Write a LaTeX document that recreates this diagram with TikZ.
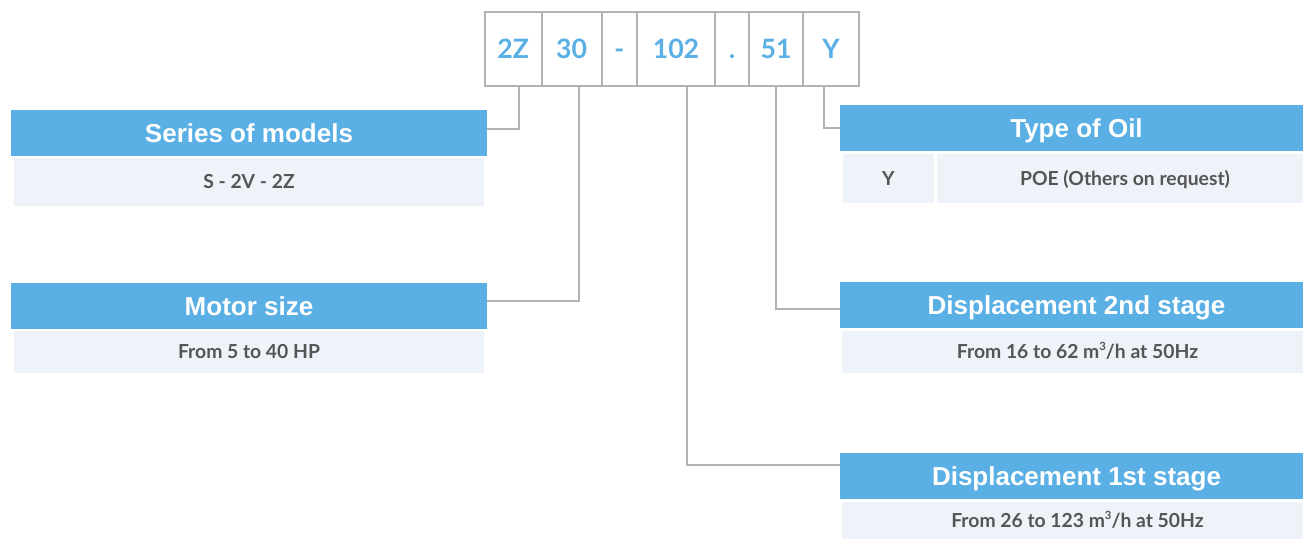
\documentclass[tikz,border=0pt]{standalone}
\usepackage{fontspec}
\setmainfont{Liberation Sans}
\newfontfamily\subfont{Lato}
\definecolor{hblue}{HTML}{5AAFE4}
\definecolor{bodybg}{HTML}{EEF3FA}
\definecolor{lgray}{HTML}{B3B3B3}
\definecolor{tgray}{HTML}{555555}
\newcommand\cubed{\raisebox{0.42em}{\fontsize{8.5pt}{8.5pt}\selectfont 3}}
\begin{document}
\begin{tikzpicture}[x=0.75pt,y=-0.75pt,
  head/.style={fill=hblue,text=white,inner sep=0,anchor=center,
    font=\bfseries\fontsize{19.5pt}{23pt}\selectfont,minimum height=46*0.75pt,
    text height=14pt,text depth=0pt},
  body/.style={fill=bodybg,text=tgray,inner sep=0,anchor=center,
    font=\subfont\bfseries\fontsize{14.5pt}{17pt}\selectfont,
    text height=10.4pt,text depth=0pt},
  codebox/.style={draw=lgray,line width=1.5pt,text=hblue,inner sep=0,anchor=center,
    font=\subfont\bfseries\fontsize{20pt}{24pt}\selectfont,minimum height=74*0.75pt,
    text height=14.4pt,text depth=0pt},
  conn/.style={draw=lgray,line width=1.6pt}]
\useasboundingbox[fill=white] (0,0) rectangle (1303,539);
% code boxes
\node[codebox,minimum width=56.7*0.75pt] (b1) at (513.3,49) {2Z};
\node[codebox,minimum width=60*0.75pt] (b2) at (571.7,49) {30};
\node[codebox,minimum width=35.3*0.75pt] (b3) at (619.3,49) {-};
\node[codebox,minimum width=78*0.75pt] (b4) at (676,49) {102};
\node[codebox,minimum width=34*0.75pt] (b5) at (732,49) {.};
\node[codebox,minimum width=54*0.75pt] (b6) at (776,49) {51};
\node[codebox,minimum width=56*0.75pt] (b7) at (831,49) {Y};
% left blocks
\node[head,minimum width=476*0.75pt] (serieshead) at (249,133) {Series of models};
\node[body,minimum width=470*0.75pt,minimum height=48*0.75pt] (seriesbody) at (249,182) {S - 2V - 2Z};
\node[head,minimum width=476*0.75pt] (motorhead) at (249,306) {Motor size};
\node[body,minimum width=470*0.75pt,minimum height=42*0.75pt] (motorbody) at (249,352) {From 5 to 40 HP};
% right blocks
\node[head,minimum width=473*0.75pt] (oilhead) at (1076.5,128) {Type of Oil};
\node[body,minimum width=91*0.75pt,minimum height=49*0.75pt] (oily) at (888.5,178.5) {Y};
\node[body,minimum width=376*0.75pt,minimum height=49*0.75pt] (oilpoe) at (1125,178.5) {POE (Others on request)};
\node[head,minimum width=473*0.75pt] (d2head) at (1076.5,305) {Displacement 2nd stage};
\node[body,minimum width=471*0.75pt,minimum height=42*0.75pt] (d2body) at (1077.5,352) {From 16 to 62 m\cubed/h at 50Hz};
\node[head,minimum width=473*0.75pt] (d1head) at (1076.5,476) {Displacement 1st stage};
\node[body,minimum width=471*0.75pt,minimum height=37*0.75pt] (d1body) at (1077.5,520.5) {From 26 to 123 m\cubed/h at 50Hz};
% connectors
\draw[conn] ([xshift=4.5pt]b1.south) |- ([yshift=3pt]serieshead.east);
\draw[conn] ([xshift=5.7pt]b2.south) |- ([yshift=3.75pt]motorhead.east);
\draw[conn] ([xshift=8pt]b4.south) |- ([yshift=8.25pt]d1head.west);
\draw[conn] (b6.south) |- ([yshift=-3pt]d2head.west);
\draw[conn] ([xshift=-5pt]b7.south) |- (oilhead.west);
\end{tikzpicture}
\end{document}
